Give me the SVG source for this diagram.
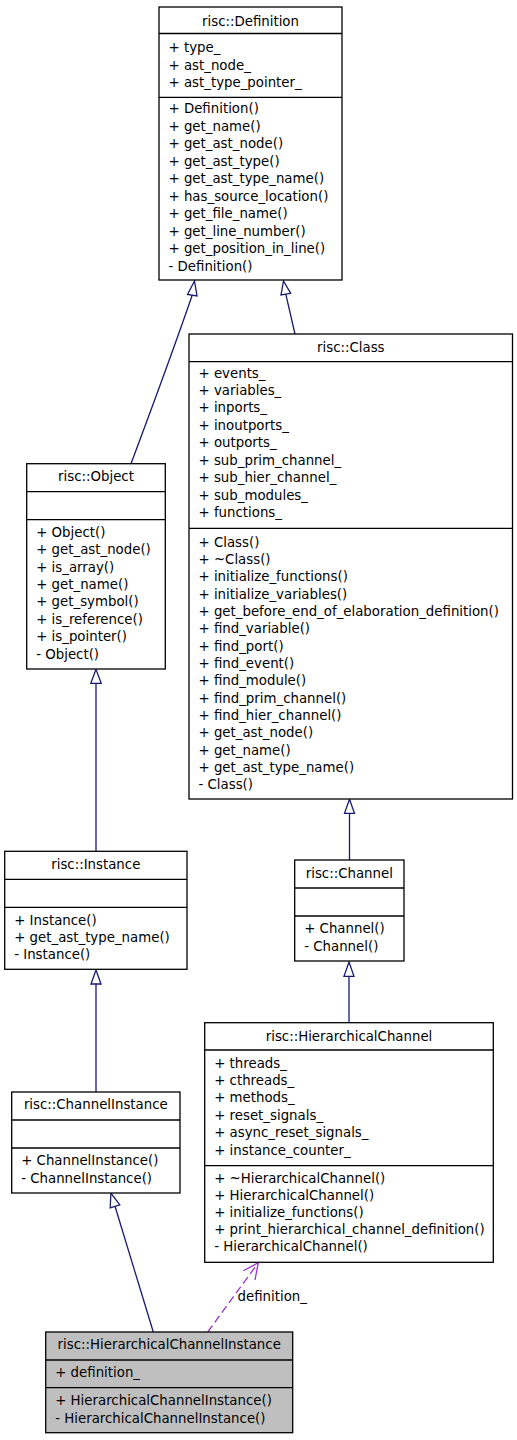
<svg xmlns="http://www.w3.org/2000/svg" width="517" height="1440" viewBox="0 0 517 1440">
<style>
.box{fill:#ffffff;stroke:#000000;stroke-width:1.3}
.hl{fill:#bfbfbf}
.div{stroke:#000000;stroke-width:1.3}
text{font-family:"DejaVu Sans","Liberation Sans",sans-serif;font-size:13.33px;fill:#000000}
.t{text-anchor:middle}
.inh{fill:none;stroke:#191970;stroke-width:1.3}
.inhh{fill:#ffffff;stroke:#191970;stroke-width:1.3}
.dep{fill:none;stroke:#9a32cd;stroke-width:1.3;stroke-dasharray:8,4}
.deph{fill:none;stroke:#9a32cd;stroke-width:1.3}
</style>
<rect x="0" y="0" width="517" height="1440" fill="#ffffff"/>

<g id="edges">
  <path class="inh" d="M131,463.7 C150,413 174,348 192.2,295.3"/>
  <polygon class="inhh" points="194.5,281 187.5,294.5 197,296"/>
  <path class="inh" d="M295,334 L285.8,294.2"/>
  <polygon class="inhh" points="283.5,281 281,295 290.7,293.3"/>
  <path class="inh" d="M96,851.3 L96,683.3"/>
  <polygon class="inhh" points="96,669.3 90.8,683.3 101.2,683.3"/>
  <path class="inh" d="M349.5,860 L349.5,813.3"/>
  <polygon class="inhh" points="349.5,799.3 344.5,813.3 354.5,813.3"/>
  <path class="inh" d="M349,1022.7 L349,976.3"/>
  <polygon class="inhh" points="349,962 344,976.3 354,976.3"/>
  <path class="inh" d="M96,1092 L96,984"/>
  <polygon class="inhh" points="96,970 91,984 101,984"/>
  <path class="inh" d="M153.3,1332 L115,1206.3"/>
  <polygon class="inhh" points="110.9,1193 110.2,1207.8 119.8,1204.8"/>
  <path class="dep" d="M207.7,1332 L258.3,1262.7"/>
  <polyline class="deph" points="243.3,1270.7 258.3,1262.7 255,1280"/>
  <text x="237.5" y="1301">definition_</text>
</g>

<g id="node-definition">
  <rect class="box" x="159" y="7" width="183" height="273"/>
  <line class="div" x1="159" y1="33.5" x2="342" y2="33.5"/>
  <line class="div" x1="159" y1="97.3" x2="342" y2="97.3"/>
  <text class="t" x="250.5" y="26">risc::Definition</text>
  <text x="168.5" y="52.3">+ type_</text>
  <text x="168.5" y="69.5">+ ast_node_</text>
  <text x="168.5" y="86.7">+ ast_type_pointer_</text>
  <text x="168.5" y="113.3">+ Definition()</text>
  <text x="168.5" y="130.8">+ get_name()</text>
  <text x="168.5" y="148.3">+ get_ast_node()</text>
  <text x="168.5" y="165.8">+ get_ast_type()</text>
  <text x="168.5" y="183.3">+ get_ast_type_name()</text>
  <text x="168.5" y="200.8">+ has_source_location()</text>
  <text x="168.5" y="218.3">+ get_file_name()</text>
  <text x="168.5" y="235.8">+ get_line_number()</text>
  <text x="168.5" y="253.3">+ get_position_in_line()</text>
  <text x="168.5" y="270.8">- Definition()</text>
</g>

<g id="node-class">
  <rect class="box" x="189" y="334" width="323.5" height="465"/>
  <line class="div" x1="189" y1="361.7" x2="512.5" y2="361.7"/>
  <line class="div" x1="189" y1="528.3" x2="512.5" y2="528.3"/>
  <text class="t" x="350.8" y="351.7">risc::Class</text>
  <text x="198.5" y="377.5">+ events_</text>
  <text x="198.5" y="395">+ variables_</text>
  <text x="198.5" y="412.4">+ inports_</text>
  <text x="198.5" y="429.9">+ inoutports_</text>
  <text x="198.5" y="447.4">+ outports_</text>
  <text x="198.5" y="464.8">+ sub_prim_channel_</text>
  <text x="198.5" y="482.3">+ sub_hier_channel_</text>
  <text x="198.5" y="499.8">+ sub_modules_</text>
  <text x="198.5" y="517.3">+ functions_</text>
  <text x="198.5" y="546.5">+ Class()</text>
  <text x="198.5" y="563.8">+ ~Class()</text>
  <text x="198.5" y="581.2">+ initialize_functions()</text>
  <text x="198.5" y="598.5">+ initialize_variables()</text>
  <text x="198.5" y="615.8">+ get_before_end_of_elaboration_definition()</text>
  <text x="198.5" y="633.2">+ find_variable()</text>
  <text x="198.5" y="650.5">+ find_port()</text>
  <text x="198.5" y="667.8">+ find_event()</text>
  <text x="198.5" y="685.1">+ find_module()</text>
  <text x="198.5" y="702.5">+ find_prim_channel()</text>
  <text x="198.5" y="719.8">+ find_hier_channel()</text>
  <text x="198.5" y="737.1">+ get_ast_node()</text>
  <text x="198.5" y="754.5">+ get_name()</text>
  <text x="198.5" y="771.8">+ get_ast_type_name()</text>
  <text x="198.5" y="789.1">- Class()</text>
</g>

<g id="node-object">
  <rect class="box" x="26.7" y="463.7" width="138.6" height="205.3"/>
  <line class="div" x1="26.7" y1="491.7" x2="165.3" y2="491.7"/>
  <line class="div" x1="26.7" y1="519.7" x2="165.3" y2="519.7"/>
  <text class="t" x="96" y="481">risc::Object</text>
  <text x="36.2" y="536.8">+ Object()</text>
  <text x="36.2" y="554.2">+ get_ast_node()</text>
  <text x="36.2" y="571.6">+ is_array()</text>
  <text x="36.2" y="589">+ get_name()</text>
  <text x="36.2" y="606.4">+ get_symbol()</text>
  <text x="36.2" y="623.7">+ is_reference()</text>
  <text x="36.2" y="641.1">+ is_pointer()</text>
  <text x="36.2" y="658.5">- Object()</text>
</g>

<g id="node-instance">
  <rect class="box" x="4.7" y="851.3" width="182.3" height="118"/>
  <line class="div" x1="4.7" y1="879.3" x2="187" y2="879.3"/>
  <line class="div" x1="4.7" y1="907.3" x2="187" y2="907.3"/>
  <text class="t" x="95.8" y="869">risc::Instance</text>
  <text x="14.2" y="924.5">+ Instance()</text>
  <text x="14.2" y="941.7">+ get_ast_type_name()</text>
  <text x="14.2" y="958.8">- Instance()</text>
</g>

<g id="node-channel">
  <rect class="box" x="294.7" y="860" width="109.3" height="101"/>
  <line class="div" x1="294.7" y1="888" x2="404" y2="888"/>
  <line class="div" x1="294.7" y1="916" x2="404" y2="916"/>
  <text class="t" x="349.3" y="877.7">risc::Channel</text>
  <text x="304.2" y="932.7">+ Channel()</text>
  <text x="304.2" y="950.5">- Channel()</text>
</g>

<g id="node-hierarchicalchannel">
  <rect class="box" x="204.7" y="1022.7" width="288.6" height="239.6"/>
  <line class="div" x1="204.7" y1="1050" x2="493.3" y2="1050"/>
  <line class="div" x1="204.7" y1="1165.7" x2="493.3" y2="1165.7"/>
  <text class="t" x="349" y="1040.7">risc::HierarchicalChannel</text>
  <text x="214.2" y="1067.5">+ threads_</text>
  <text x="214.2" y="1084.9">+ cthreads_</text>
  <text x="214.2" y="1102.3">+ methods_</text>
  <text x="214.2" y="1119.7">+ reset_signals_</text>
  <text x="214.2" y="1137.1">+ async_reset_signals_</text>
  <text x="214.2" y="1154.5">+ instance_counter_</text>
  <text x="214.2" y="1182.5">+ ~HierarchicalChannel()</text>
  <text x="214.2" y="1199.7">+ HierarchicalChannel()</text>
  <text x="214.2" y="1216.9">+ initialize_functions()</text>
  <text x="214.2" y="1234.1">+ print_hierarchical_channel_definition()</text>
  <text x="214.2" y="1251.3">- HierarchicalChannel()</text>
</g>

<g id="node-channelinstance">
  <rect class="box" x="11.7" y="1092" width="168.3" height="101"/>
  <line class="div" x1="11.7" y1="1120" x2="180" y2="1120"/>
  <line class="div" x1="11.7" y1="1148" x2="180" y2="1148"/>
  <text class="t" x="95.8" y="1109.3">risc::ChannelInstance</text>
  <text x="21.2" y="1165">+ ChannelInstance()</text>
  <text x="21.2" y="1183.3">- ChannelInstance()</text>
</g>

<g id="node-hierarchicalchannelinstance">
  <rect class="box hl" x="45.7" y="1332" width="247" height="100.7"/>
  <line class="div" x1="45.7" y1="1360" x2="292.7" y2="1360"/>
  <line class="div" x1="45.7" y1="1387.7" x2="292.7" y2="1387.7"/>
  <text class="t" x="169.2" y="1349.3">risc::HierarchicalChannelInstance</text>
  <text x="55.2" y="1376.7">+ definition_</text>
  <text x="55.2" y="1405">+ HierarchicalChannelInstance()</text>
  <text x="55.2" y="1423.3">- HierarchicalChannelInstance()</text>
</g>
</svg>
